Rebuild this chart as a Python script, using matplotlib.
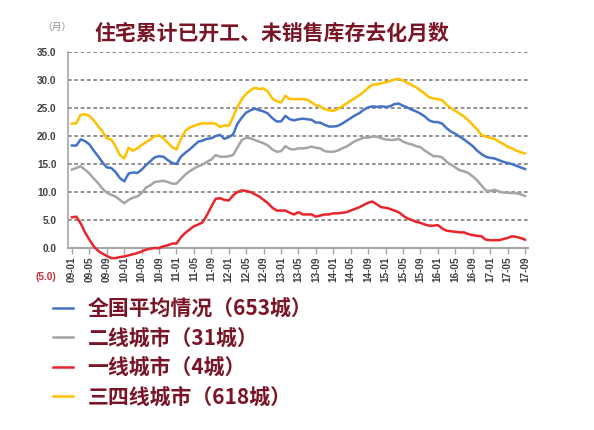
import matplotlib
matplotlib.use("Agg")
import matplotlib.pyplot as plt

# ---------------- data ----------------
tick_labels = ['09-01', '09-05', '09-09', '10-01', '10-05', '10-09', '11-01', '11-05', '11-09',
               '12-01', '12-05', '12-09', '13-01', '13-05', '13-09', '14-01', '14-05', '14-09',
               '15-01', '15-05', '15-09', '16-01', '16-05', '16-09', '17-01', '17-05', '17-09']

national = [18.3, 18.3, 19.4, 19.1, 18.5, 17.4, 16.4, 15.3, 14.4, 14.3, 13.6, 12.5, 11.9, 13.3, 13.5,
            13.4, 14.0, 14.8, 15.5, 16.2, 16.4, 16.3, 15.7, 15.2, 15.0, 16.3, 17.0, 17.6, 18.3, 19.0,
            19.2, 19.5, 19.6, 20.0, 20.2, 19.5, 19.8, 20.3, 22.2, 23.3, 24.2, 24.6, 24.9, 24.6, 24.4,
            24.0, 23.2, 22.6, 22.6, 23.6, 23.0, 22.8, 23.0, 23.1, 23.0, 22.9, 22.4, 22.4, 22.0, 21.7,
            21.7, 21.8, 22.2, 22.7, 23.2, 23.7, 24.1, 24.7, 25.1, 25.3, 25.2, 25.3, 25.2, 25.3, 25.7,
            25.8, 25.4, 25.1, 24.7, 24.4, 24.0, 23.5, 22.8, 22.5, 22.5, 22.2, 21.4, 20.8, 20.4, 19.9,
            19.4, 18.8, 18.2, 17.4, 16.8, 16.3, 16.1, 16.0, 15.7, 15.4, 15.2, 15.0, 14.7, 14.4, 14.1]

tier2 = [14.0, 14.3, 14.6, 14.0, 13.3, 12.4, 11.6, 10.6, 9.9, 9.5, 9.2, 8.6, 8.0, 8.6, 9.0,
         9.2, 9.8, 10.8, 11.2, 11.8, 11.9, 12.0, 11.8, 11.5, 11.5, 12.3, 13.1, 13.7, 14.2, 14.6,
         14.9, 15.4, 15.8, 16.6, 16.3, 16.3, 16.4, 16.6, 18.0, 19.3, 19.7, 19.6, 19.3, 19.0, 18.7,
         18.3, 17.6, 17.2, 17.3, 18.2, 17.7, 17.6, 17.8, 17.8, 17.9, 18.1, 17.9, 17.8, 17.3, 17.2,
         17.2, 17.4, 17.8, 18.1, 18.6, 19.1, 19.4, 19.7, 19.7, 19.9, 19.9, 19.6, 19.4, 19.3, 19.3,
         19.5, 19.0, 18.7, 18.5, 18.2, 18.0, 17.4, 16.9, 16.4, 16.4, 16.2, 15.4, 14.9, 14.4, 13.9,
         13.7, 13.4, 12.8, 12.1, 11.2, 10.3, 10.2, 10.4, 10.1, 9.9, 9.9, 9.8, 9.8, 9.6, 9.3]

tier1 = [5.5, 5.6, 4.4, 2.8, 1.5, 0.3, -0.5, -1.0, -1.4, -1.8, -1.8, -1.6, -1.5, -1.3, -1.1,
         -0.9, -0.6, -0.3, -0.1, 0.0, 0.0, 0.3, 0.5, 0.8, 0.8, 1.9, 2.7, 3.3, 3.9, 4.2,
         4.6, 5.9, 7.4, 8.8, 8.9, 8.6, 8.5, 9.4, 10.0, 10.3, 10.2, 10.0, 9.6, 9.2, 8.6,
         8.0, 7.2, 6.7, 6.7, 6.7, 6.3, 6.0, 6.4, 6.0, 6.0, 6.0, 5.6, 5.8, 6.0, 6.0,
         6.2, 6.2, 6.3, 6.4, 6.7, 7.0, 7.3, 7.7, 8.1, 8.3, 7.8, 7.3, 7.2, 7.0, 6.7,
         6.4, 5.8, 5.3, 5.0, 4.7, 4.5, 4.2, 4.0, 4.0, 4.1, 3.5, 3.1, 3.0, 2.9, 2.8,
         2.8, 2.5, 2.3, 2.2, 2.1, 1.5, 1.4, 1.4, 1.4, 1.6, 1.8, 2.1, 2.0, 1.8, 1.5]

tier34 = [22.2, 22.3, 23.8, 23.9, 23.6, 22.8, 21.8, 20.8, 19.6, 19.4, 18.2, 16.6, 16.0, 17.9, 17.4,
          17.8, 18.4, 18.9, 19.4, 20.0, 20.1, 19.6, 18.8, 18.0, 17.6, 19.5, 20.9, 21.5, 21.8, 22.1,
          22.3, 22.2, 22.3, 22.2, 21.6, 21.9, 21.8, 23.4, 25.2, 26.6, 27.5, 28.2, 28.6, 28.4, 28.5,
          27.9, 26.7, 26.2, 26.0, 27.2, 26.6, 26.6, 26.6, 26.6, 26.5, 26.0, 25.5, 25.3, 24.8, 24.6,
          24.5, 24.8, 25.3, 25.8, 26.3, 26.8, 27.3, 27.9, 28.6, 29.2, 29.2, 29.4, 29.6, 29.8, 30.1,
          30.2, 29.9, 29.5, 29.1, 28.7, 28.1, 27.6, 26.9, 26.7, 26.6, 26.4, 25.6, 25.0, 24.5, 24.0,
          23.5, 22.8, 22.0, 21.2, 20.2, 19.9, 19.7, 19.5, 19.0, 18.6, 18.1, 17.8, 17.4, 17.1, 16.9]

series_labels = ['全国平均情况（653城）', '二线城市（31城）', '一线城市（4城）', '三四线城市（618城）']
y_ticks = [-5, 0, 5, 10, 15, 20, 25, 30, 35]
y_tick_labels = ['(5.0)', '0.0', '5.0', '10.0', '15.0', '20.0', '25.0', '30.0', '35.0']

title = '住宅累计已开工、未销售库存去化月数'
unit = '（月）'

# ---------------- drawing ----------------
CJK = ['Noto Sans CJK SC', 'DejaVu Sans']
MAROON = '#7a1526'
colors = ['#4472C4', '#A5A5A5', '#E8252B', '#FFC000']

fig = plt.figure(figsize=(5.94, 4.30), dpi=100)
fig.patch.set_facecolor('white')
ax = fig.add_axes([0.1138, 0.358, 0.7744, 0.521])

x = list(range(len(national)))
all_series = [national, tier2, tier1, tier34]
handles = []
for s, c, lab in zip(all_series, colors, series_labels):
    h, = ax.plot(x, s, color=c, lw=1.8, solid_joinstyle='round', label=lab, zorder=3)
    handles.append(h)

ax.set_xlim(-1, 104.6)
ax.set_ylim(-5, 35)

# gridlines (dashed) except at 0 and -5
for yv in y_ticks:
    if yv > 0:
        ax.axhline(yv, color='#7f7f7f', lw=1.2, linestyle=(0, (2.2, 1.6)), zorder=1)

for sp in ['top', 'right']:
    ax.spines[sp].set_visible(False)
ax.spines['left'].set_color('#a6a6a6')
ax.spines['left'].set_linewidth(1.2)
ax.spines['left'].set_bounds(0, 35)
ax.spines['bottom'].set_position(('data', 0))
ax.spines['bottom'].set_color('#a6a6a6')
ax.spines['bottom'].set_linewidth(1.5)
ax.spines['bottom'].set_zorder(2)

ax.set_yticks(y_ticks)
ax.set_yticklabels(y_tick_labels)
ax.tick_params(axis='y', length=0, pad=8, labelsize=7.2, labelcolor='#404040')
for t in ax.get_yticklabels():
    t.set_fontfamily('Liberation Sans')
    t.set_fontweight('bold')
    if t.get_text().startswith('('):
        t.set_color('#d03030')

ax.set_xticks([i * 4 for i in range(len(tick_labels))])
ax.set_xticklabels(tick_labels, rotation=90)
ax.tick_params(axis='x', length=4, width=1, color='#a6a6a6', direction='out', pad=2,
               labelsize=7.2, labelcolor='#404040')
for t in ax.get_xticklabels():
    t.set_fontfamily('Liberation Sans')
    t.set_fontweight('bold')
    t.set_verticalalignment('top')

fig.text(0.458, 0.922, title, family=CJK, fontsize=15, fontweight='bold', color=MAROON,
         ha='center', va='center')
fig.text(0.096, 0.938, unit, family=CJK, fontsize=7, color='#909090', ha='center', va='center')

leg = fig.legend(handles=handles, labels=series_labels, loc='upper left',
                 bbox_to_anchor=(0.057, 0.350), frameon=False, handlelength=1.0,
                 handletextpad=0.67, labelspacing=0.40,
                 prop={'family': CJK, 'size': 15, 'weight': 'bold'})
for t in leg.get_texts():
    t.set_color(MAROON)
for lh in leg.get_lines():
    lh.set_linewidth(1.8)

fig.savefig('out.png', dpi=100, facecolor='white')
